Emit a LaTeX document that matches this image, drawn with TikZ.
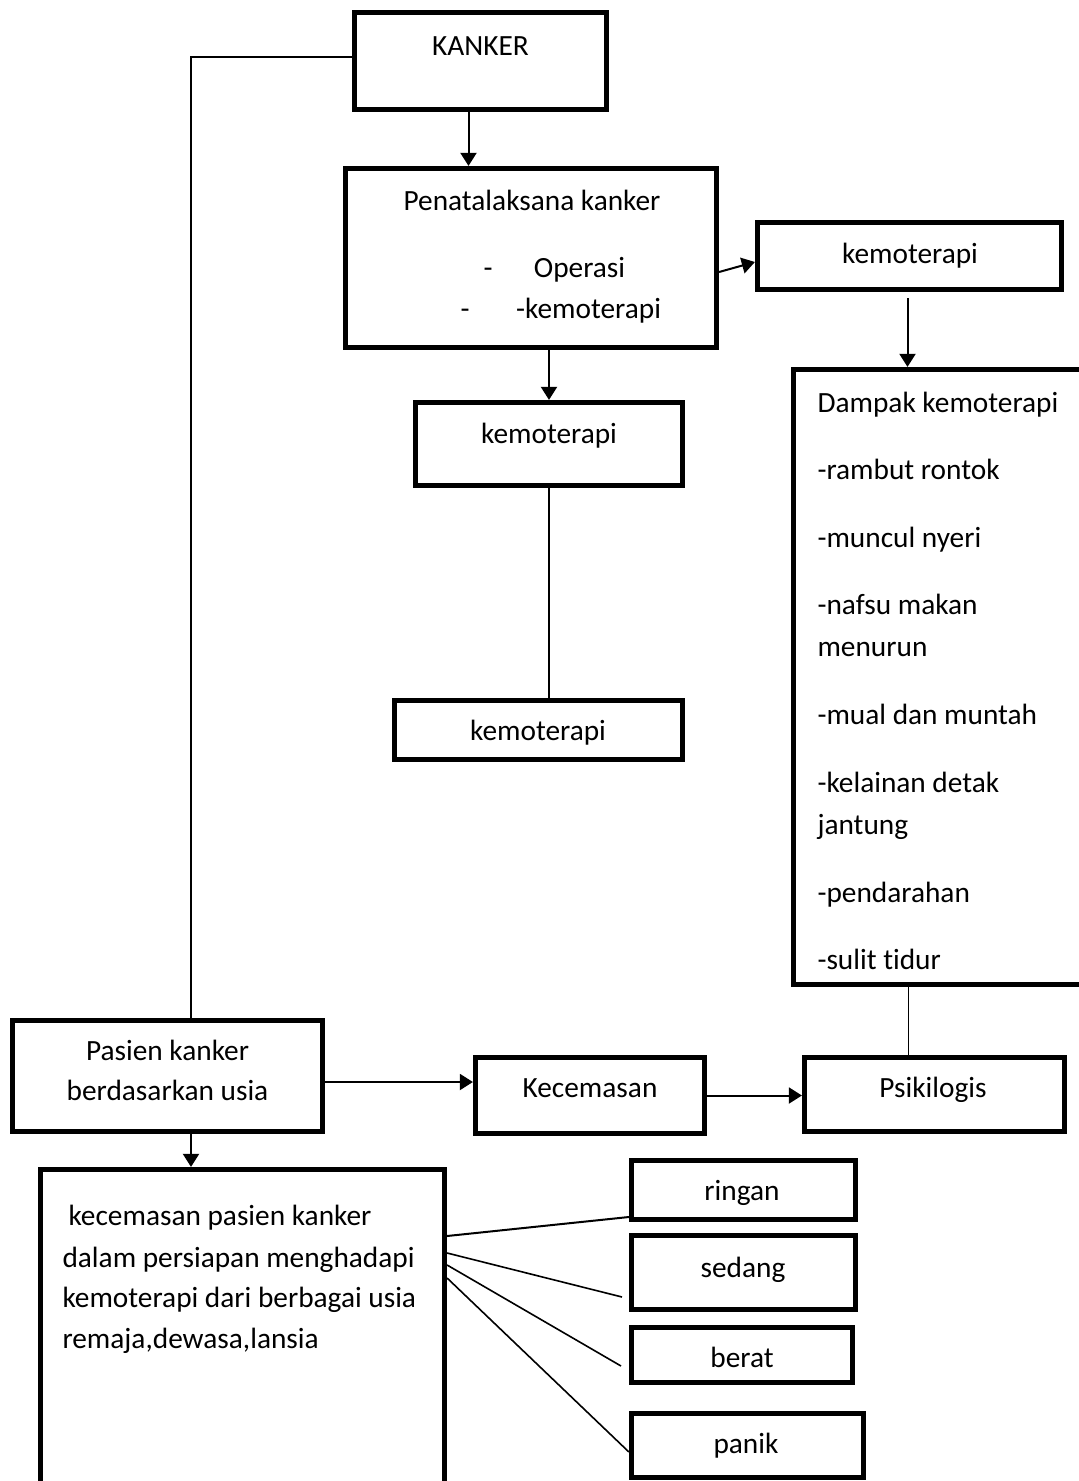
\documentclass[tikz,border=0pt]{standalone}
\usepackage{fontspec}
\setmainfont{Carlito}[Ligatures={NoCommon,NoContextual}, RawFeature={-liga;-clig;-dlig}]
\usetikzlibrary{arrows.meta,positioning,calc}
\newcommand{\pxs}{0.375pt}
\tikzset{
  box/.style 2 args={draw, line width=1.75pt, inner sep=0pt, minimum width=#1*\pxs, minimum height=#2*\pxs},
  txt/.style={inner sep=0pt, font=\fontsize{11}{15.4}\selectfont},
  arr/.style={line width=0.75pt, -{Triangle[length=4.9pt,width=6pt]}},
  link/.style={line width=0.6pt},
}

\begin{document}
\begin{tikzpicture}[x=0.375pt, y=-0.375pt]
    \useasboundingbox (0,0) rectangle (1078,1481);
    % boxes
    \node[box={252.5}{97.5}] (kanker) at (480.5,61) {};
    \node[box={371.5}{179.5}] (penata) at (531,258) {};
    \node[box={304.5}{67.5}] (kemoA) at (909.5,256) {};
    \node[box={267.5}{83.5}] (kemoB) at (549,444) {};
    \node[box={288.5}{59.5}] (kemoC) at (538.5,730) {};
    \node[box={294.5}{615.5}] (dampak) at (940.5,677) {};
    \node[box={310.5}{111.5}] (pasien) at (167.5,1076) {};
    \node[box={229.5}{76.5}] (kecem) at (590,1095.5) {};
    \node[box={260.5}{74.5}] (psiko) at (934.5,1094.5) {};
    \node[box={404.5}{338.5}] (cemas) at (242.5,1338.5) {};
    \node[box={224.5}{59.5}] (ringan) at (743.5,1190) {};
    \node[box={224.5}{74.5}] (sedang) at (743.5,1272.5) {};
    \node[box={221.5}{55.5}] (berat) at (742,1355) {};
    \node[box={232.5}{64.5}] (panik) at (747.5,1445.5) {};

    % texts
    \node[txt, anchor=base] (kankerT) at (480.5,55) {KANKER};
    \node[txt, anchor=base] (penataT) at (532,210) {Penatalaksana kanker};
    \node[txt, anchor=base west] (penataOp) at (483,277) {-\hspace{15.5pt}Operasi};
    \node[txt, anchor=base west] (penataKemo) at (460,318) {-\hspace{17.5pt}-kemoterapi};
    \node[txt, anchor=base] (kemoAT) at (910,263) {kemoterapi};
    \node[txt, anchor=base] (kemoBT) at (549,443) {kemoterapi};
    \node[txt, anchor=base] (kemoCT) at (538,740) {kemoterapi};
    \foreach \ln/\yy [count=\i] in {Dampak kemoterapi/412, -rambut rontok/479,
        -muncul nyeri/547, -nafsu makan/614, menurun/656, -mual dan muntah/724,
        -kelainan detak/792, jantung/834, -pendarahan/902, -sulit tidur/969}
      \node[txt, anchor=base west] (dampak\i) at (817,\yy) {\ln};
    \node[txt, anchor=base] (pasienT1) at (167.5,1060) {Pasien kanker};
    \node[txt, anchor=base] (pasienT2) at (167.5,1100) {berdasarkan usia};
    \node[txt, anchor=base] (kecemT) at (590,1097) {Kecemasan};
    \node[txt, anchor=base] (psikoT) at (933,1097) {Psikilogis};
    \node[txt, anchor=base west] (cemas1) at (68,1225) {kecemasan pasien kanker};
    \node[txt, anchor=base west] (cemas2) at (62,1267) {dalam persiapan menghadapi};
    \node[txt, anchor=base west] (cemas3) at (62,1307) {kemoterapi dari berbagai usia};
    \node[txt, anchor=base west] (cemas4) at (62,1348) {remaja,dewasa,lansia};
    \node[txt, anchor=base] (ringanT) at (742,1200) {ringan};
    \node[txt, anchor=base] (sedangT) at (743,1277) {sedang};
    \node[txt, anchor=base] (beratT) at (742,1367) {berat};
    \node[txt, anchor=base] (panikT) at (746,1453) {panik};

    % connectors
    \coordinate (turn) at (191,57);
    \draw[link] (kanker.west |- turn) -- (turn) -- (turn |- pasien.north);
    \coordinate (k1) at ($(kanker.south)+(-12,0)$);
    \draw[arr] (k1) -- (k1 |- penata.north);
    \draw[arr] ($(penata.east)+(0,14)$) -- ($(kemoA.west)+(0,6)$);
    \coordinate (a1) at ($(kemoA.south)+(-2,6)$);
    \draw[arr] (a1) -- (a1 |- dampak.north);
    \draw[arr] (kemoB.north |- penata.south) -- (kemoB.north);
    \draw[link] (kemoB.south) -- (kemoB.south |- kemoC.north);
    \coordinate (d1) at ($(psiko.north)+(-26,0)$);
    \draw[link] (d1 |- dampak.south) -- (d1);
    \coordinate (p1) at ($(pasien.east)+(0,6)$);
    \draw[arr] (p1) -- (p1 -| kecem.west);
    \draw[arr] (kecem.east) -- (kecem.east -| psiko.west);
    \draw[arr] (turn |- pasien.south) -- (turn |- cemas.north);
    \coordinate (sedangE) at (622,1297);
    \coordinate (beratE) at (621,1366);
    \draw[line width=0.75pt] (cemas.east |- 0,1236) -- (ringan.west |- 0,1217);
    \draw[link] (cemas.east |- 0,1253) -- (sedangE);
    \draw[link] (cemas.east |- 0,1265) -- (beratE);
    \draw[link] (cemas.east |- 0,1278) -- (panik.west |- 0,1452);
\end{tikzpicture}
\end{document}
